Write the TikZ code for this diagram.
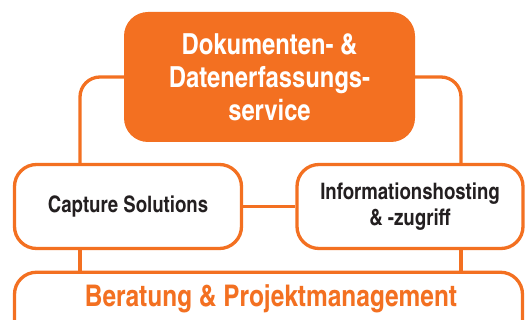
\documentclass[tikz,border=0pt]{standalone}
\usepackage{fontspec}
\newfontfamily\cond{texgyreheroscn-bold.otf}
\definecolor{orng}{HTML}{F37021}
\definecolor{ink}{HTML}{231F20}
\begin{document}
\begin{tikzpicture}[x=1pt,y=-1pt,
  box/.style={draw=orng, line width=3.3pt, fill=white, rounded corners=22pt, inner sep=0pt, align=center, font=\cond\fontsize{22.7}{26}\selectfont, text=ink},
  topbox/.style={fill=orng, rounded corners=24pt, inner sep=0pt, align=center, text=white, font=\cond\fontsize{29}{33}\selectfont},
  conn/.style={draw=orng, line width=3.3pt}]
\useasboundingbox (0,0) rectangle (525,320);
\clip (0,0) rectangle (525,320);
\coordinate (xl) at (80,0);
\coordinate (xr) at (461,0);
\node[topbox, minimum width=291pt, minimum height=130pt] (top) at (269.5,77) {Dokumenten- \&\\Datenerfassungs-\\service};
\node[box, minimum width=227pt, minimum height=84pt] (cap) at (128,206.5) {Capture Solutions};
\node[box, minimum width=226pt, minimum height=84pt] (info) at (410,206.5) {Informationshosting\\\& -zugriff};
\node[box, minimum width=508pt, minimum height=90pt, anchor=north] (bot) at (268.5,270.6) {};
\node[anchor=base, inner sep=0pt, text=orng, font=\cond\fontsize{29.8}{33}\selectfont] (bottxt) at (271,307) {Beratung \& Projektmanagement};
\draw[conn, rounded corners=20pt] (top.west) -| (cap.north -| xl);
\draw[conn, rounded corners=20pt] (top.east) -| (info.north -| xr);
\draw[conn] (cap.east) -- (info.west);
\draw[conn] (cap.south -| xl) -- (bot.north -| xl);
\draw[conn] (info.south -| xr) -- (bot.north -| xr);
\end{tikzpicture}
\end{document}
